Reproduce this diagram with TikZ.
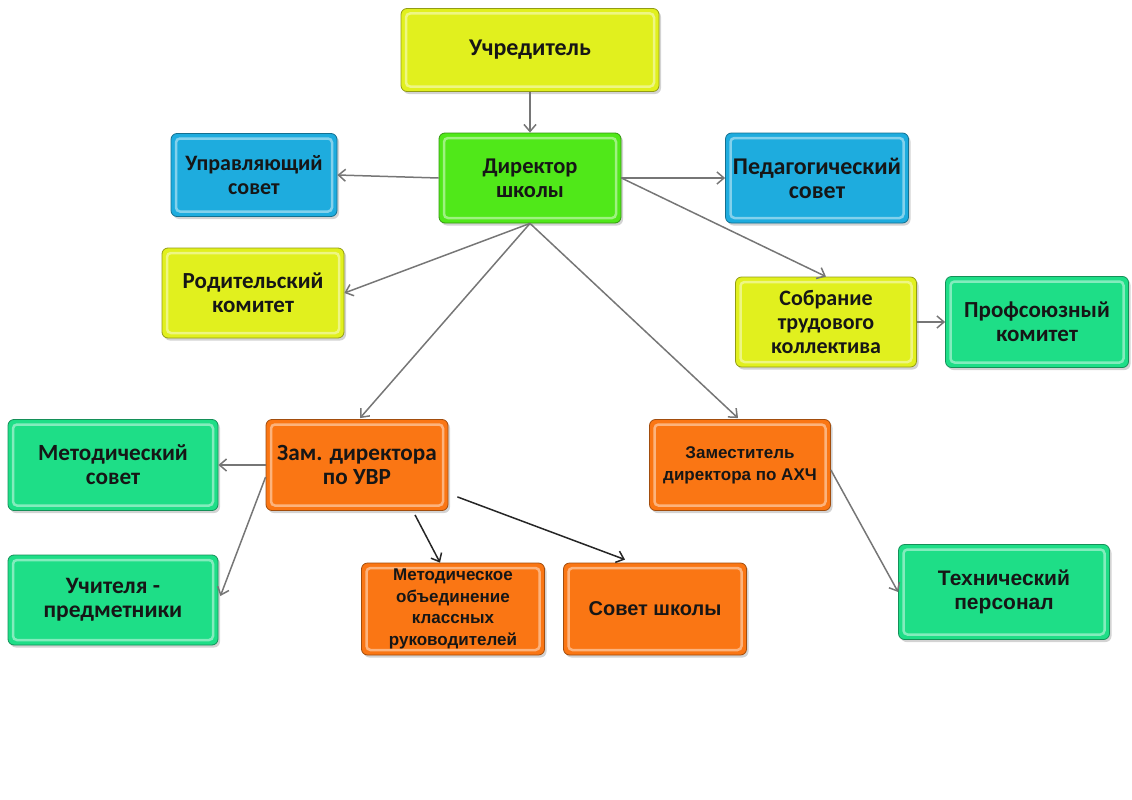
\documentclass[tikz,border=0pt]{standalone}
\usepackage{fontspec}
\setmainfont{Carlito}
\newfontfamily\arialf{Liberation Sans}
\usetikzlibrary{arrows.meta,shadows,calc}
\definecolor{cyel}{RGB}{225,240,30}
\definecolor{cgrn}{RGB}{80,232,25}
\definecolor{cblu}{RGB}{30,172,222}
\definecolor{cmnt}{RGB}{30,222,135}
\definecolor{corg}{RGB}{250,118,20}
\definecolor{ctxt}{RGB}{22,22,22}
\definecolor{carr}{RGB}{118,118,118}
\tikzset{
  box/.style={draw=#1!65!black, line width=0.8pt, fill=#1, rounded corners=6pt,
    align=center, text=ctxt, inner sep=1pt,
    font=\bfseries\fontsize{22.5}{24}\selectfont,
    drop shadow={shadow xshift=2pt, shadow yshift=-2.5pt, opacity=0.35},
    path picture={\draw[white, opacity=0.45, line width=2.5pt, rounded corners=4pt]
      ([shift={(5pt,5pt)}]path picture bounding box.south west) rectangle
      ([shift={(-5pt,-5pt)}]path picture bounding box.north east);}},
  sz/.style 2 args={minimum width=#1pt, minimum height=#2pt},
  fs/.style={font=\bfseries\fontsize{#1}{24}\selectfont},
  afs/.style 2 args={font=\arialf\bfseries\fontsize{#1}{#2}\selectfont},
  arr/.style={draw=carr, line width=1.5pt, -{Straight Barb[length=7pt,width=12pt,line width=1.5pt]}},
  arrb/.style={draw=black!85, line width=1.5pt, -{Straight Barb[length=7pt,width=12pt,line width=1.5pt]}},
}
\begin{document}
\begin{tikzpicture}[x=1pt,y=-1pt]
\useasboundingbox (0,0) rectangle (1132,800);
\node[box=cyel, sz={258}{83}, fs=24] (ucr) at (530,50) {Учредитель};
\node[box=cgrn, sz={182}{90}] (dir) at (530,178) {Директор\\школы};
\node[box=cblu, sz={166}{83}, fs=22] (upr) at (254,175) {Управляющий\\совет};
\node[box=cblu, sz={183}{90}, fs=24] (ped) at (817,178) {Педагогический\\совет};
\node[box=cyel, sz={182}{90}, fs=23] (rod) at (253,293) {Родительский\\комитет};
\node[box=cyel, sz={181}{90}, fs=22] (sob) at (826,322) {Собрание\\трудового\\коллектива};
\node[box=cmnt, sz={183}{91}, fs=23] (prof) at (1037,322) {Профсоюзный\\комитет};
\node[box=cmnt, sz={210}{91}, fs=23.2] (met) at (113,465) {Методический\\совет};
\node[box=corg, sz={182}{91}, fs=23.2] (uvr) at (357,465) {Зам. директора\\по УВР};
\node[box=corg, sz={181}{91}, afs={17}{22}] (axch) at (740,465) {Заместитель\\директора по АХЧ};
\node[box=cmnt, sz={210}{90}, fs=23.5] (uch) at (113,600) {Учителя -\\предметники};
\node[box=corg, sz={183}{92}, afs={17}{21.5}] (mo) at (453,609) {Методическое\\объединение\\классных\\руководителей};
\node[box=corg, sz={183}{92}, afs={20}{24}] (sov) at (655,609) {Совет школы};
\node[box=cmnt, sz={211}{95}, afs={21}{24}] (tech) at (1004,592) {Технический\\персонал};

\draw[arr] (ucr.south) -- (dir.north);
\draw[arr] (dir.west) -- (upr.east);
\draw[arr] (dir.east) -- (ped.west);
\draw[arr] (dir.east) -- (sob.north);
\draw[arr] (dir.south) -- (rod.east);
\draw[arr] (dir.south) -- ($(uvr.north)+(3,-1)$);
\draw[arr] (dir.south) -- ($(axch.north)+(-2,-1)$);
\draw[arr] (sob.east) -- (prof.west);
\draw[arr] (uvr.west) -- (met.east);
\draw[arr] ($(uvr.west)+(0,12)$) -- ($(uch.east)+(2,-4)$);
\draw[arrb] ($(uvr.south)+(58,4)$) -- ($(mo.north)+(-13,0)$);
\draw[arrb] ($(uvr.south east)+(9,-14)$) -- ($(sov.north)+(-30,-3)$);
\draw[arr] ($(axch.east)+(0,5)$) -- (tech.west);
\end{tikzpicture}
\end{document}
